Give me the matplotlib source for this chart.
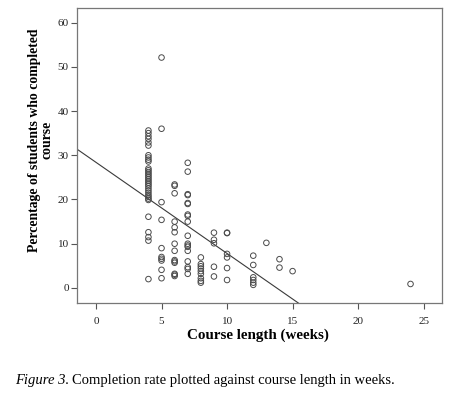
import numpy as np
import matplotlib
matplotlib.use('Agg')
from matplotlib import pyplot as plt

# completion %, grouped by course length (weeks)
pct_4 = [35.6, 35.0, 34.3, 33.7, 32.9, 32.2, 30.0, 29.5, 29.0, 28.6, 27.0, 26.6,
         26.2, 25.8, 25.4, 25.0, 24.6, 24.2, 23.8, 23.4, 23.0, 22.5, 22.0, 21.5,
         21.0, 20.6, 20.2, 19.9, 16.1, 12.6, 11.5, 10.7, 2.0]
pct_5 = [52.1, 36.0, 19.4, 15.4, 9.0, 7.0, 6.6, 6.2, 4.1, 2.2]
pct_6 = [23.4, 23.1, 21.4, 15.0, 13.7, 12.6, 10.0, 8.4, 6.3, 6.0, 5.7, 3.2, 3.0, 2.7]
pct_7 = [28.3, 26.3, 21.2, 21.0, 19.2, 19.0, 16.6, 16.3, 15.0, 11.8, 10.0, 9.6,
         9.3, 8.4, 6.0, 4.7, 4.3, 3.2]
pct_8 = [6.9, 5.4, 4.9, 4.4, 3.8, 3.2, 2.2, 1.6, 1.2]
pct_9 = [12.5, 10.9, 10.1, 4.8, 2.6]
pct_10 = [12.5, 12.4, 7.7, 6.9, 4.5, 1.8]
pct_12 = [7.3, 5.2, 2.4, 1.8, 1.2, 0.7]
pct_13 = [10.2]
pct_14 = [6.5, 4.6]
pct_15 = [3.8]
pct_24 = [0.9]

groups = {4: pct_4, 5: pct_5, 6: pct_6, 7: pct_7, 8: pct_8, 9: pct_9,
          10: pct_10, 12: pct_12, 13: pct_13, 14: pct_14, 15: pct_15, 24: pct_24}

# fit line as drawn in the figure
fit_intercept = 28.4
fit_slope = -2.06

x_ticks = [0, 5, 10, 15, 20, 25]
y_ticks = [0, 10, 20, 30, 40, 50, 60]

weeks = np.concatenate([[k] * len(v) for k, v in groups.items()])
pct = np.concatenate([v for v in groups.values()])

serif = ['Liberation Serif', 'DejaVu Serif']
plt.rcParams['font.family'] = serif

fig = plt.figure(figsize=(4.63, 3.94), dpi=100)
ax = fig.add_axes([0.1663, 0.231, 0.7883, 0.7487])

ax.scatter(weeks, pct, s=16, facecolors='none', edgecolors='#4a4a4a', linewidths=0.7, zorder=3)

ax.set_xlim(-1.45, 26.4)
ax.set_ylim(-3.4, 63.3)
xl = np.array(ax.get_xlim())
ax.plot(xl, fit_intercept + fit_slope * xl, color='#3a3a3a', lw=0.8, zorder=2)

ax.set_xticks(x_ticks)
ax.set_yticks(y_ticks)
ax.tick_params(direction='out', length=4, width=0.8, color='#555555',
               labelsize=8, labelcolor='#222222', pad=2)
ax.tick_params(axis='x', pad=6)
for sp in ax.spines.values():
    sp.set_color('#777777')
    sp.set_linewidth(0.9)

fig.text(0.0885, 0.645, 'Percentage of students who completed\ncourse', rotation=90,
         ha='center', va='center', fontsize=9.9, fontweight='bold', linespacing=1.0)
fig.text(0.557, 0.148, 'Course length (weeks)', ha='center', va='center',
         fontsize=10.8, fontweight='bold')

t = fig.text(0.032, 0.033, 'Figure 3.', ha='left', va='center', fontsize=10.5, style='italic')
fig.canvas.draw()
bb = t.get_window_extent().transformed(fig.transFigure.inverted())
fig.text(bb.x1 + 0.006, 0.033, 'Completion rate plotted against course length in weeks.',
         ha='left', va='center', fontsize=10.5)

fig.savefig('out.png', dpi=100)
